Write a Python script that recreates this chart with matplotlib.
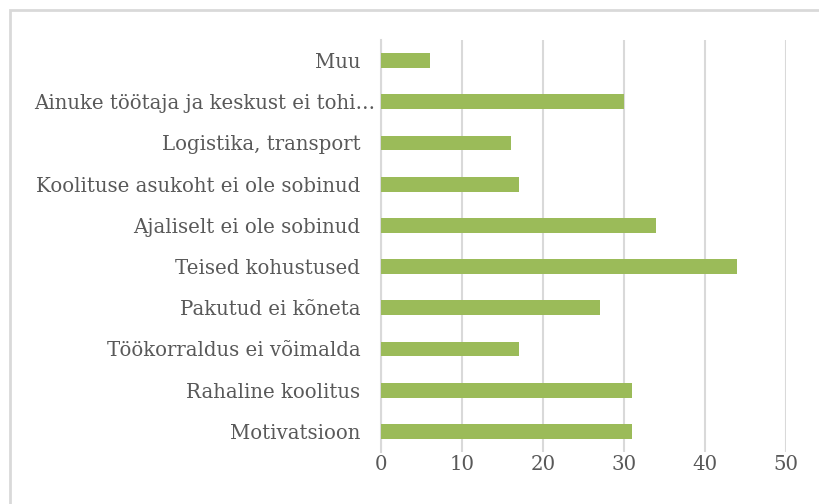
import matplotlib
matplotlib.use("Agg")
from matplotlib import pyplot as plt
from matplotlib.patches import Rectangle
from matplotlib.transforms import ScaledTranslation

# andmed (alt ules)
kategooriad = ['Motivatsioon', 'Rahaline koolitus', 'Töökorraldus ei võimalda',
               'Pakutud ei kõneta', 'Teised kohustused', 'Ajaliselt ei ole sobinud',
               'Koolituse asukoht ei ole sobinud', 'Logistika, transport',
               'Ainuke töötaja ja keskust ei tohi…', 'Muu']
vaartused = [31, 31, 17, 27, 44, 34, 17, 16, 30, 6]
xticks = [0, 10, 20, 30, 40, 50]

plt.rcParams['font.family'] = ['DejaVu Serif']

fig = plt.figure(figsize=(8.19, 5.04), dpi=100)
ax = fig.add_axes([381/819, 1-452/504, 405/819, 412/504])

# raam umber graafiku
fig.patches.append(Rectangle((10/819, -0.1), 1.0, 1-10/504+0.1, transform=fig.transFigure,
                             fill=False, edgecolor='#d9d9d9', linewidth=2))

ax.barh(range(len(kategooriad)), vaartused, height=0.36, color='#9bbb59', zorder=3)

ax.set_xlim(0, 50)
ax.set_ylim(-0.5, len(kategooriad)-0.5)
ax.set_xticks(xticks)
ax.set_yticks(range(len(kategooriad)))
ax.set_yticklabels(kategooriad)
ax.grid(axis='x', color='#d9d9d9', linewidth=1.5, zorder=0)
for s in ['top', 'right', 'bottom']:
    ax.spines[s].set_visible(False)
ax.spines['left'].set_color('#d9d9d9')
ax.spines['left'].set_linewidth(1.5)
ax.tick_params(length=0, labelsize=14.2, labelcolor='#595959')
ax.tick_params(axis='y', pad=15)
ax.tick_params(axis='x', pad=2)

# katkestatud silt ulatub teistest paremale
for lbl in ax.get_yticklabels():
    if lbl.get_text().endswith('…'):
        lbl.set_transform(lbl.get_transform() + ScaledTranslation(0.15, 0, fig.dpi_scale_trans))

fig.savefig('out.png', dpi=100)
